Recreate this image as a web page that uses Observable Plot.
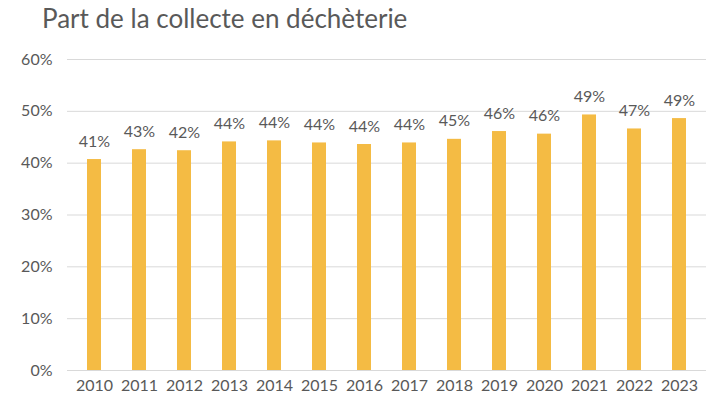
<!DOCTYPE html>
<html>
<head>
<meta charset="utf-8">
<script src="https://cdn.jsdelivr.net/npm/d3@7"></script>
<script src="https://cdn.jsdelivr.net/npm/@observablehq/plot@0.6"></script>
<style>
  html, body { margin: 0; padding: 0; background: #fff; }
  #title { font-family: Lato, "Open Sans", sans-serif; font-size: 26px; color: #595959; height: 40px; line-height: 36px; padding-left: 42px; box-sizing: border-box; }
  svg { display: block; }
</style>
</head>
<body>
<div id="title">Part de la collecte en déchèterie</div>
<div id="chart"></div>
<script>
const years = ["2010","2011","2012","2013","2014","2015","2016","2017","2018","2019","2020","2021","2022","2023"];
const shares = [0.407,0.426,0.424,0.441,0.443,0.439,0.436,0.439,0.446,0.461,0.456,0.493,0.466,0.486];
const labels = ["41%","43%","42%","44%","44%","44%","44%","44%","45%","46%","46%","49%","47%","49%"];
const yTicks = [0,0.1,0.2,0.3,0.4,0.5,0.6];

const data = years.map((y, i) => ({year: y, value: shares[i], label: labels[i]}));
const pct = d => Math.round(d * 100) + "%";

const chart = Plot.plot({
  width: 719,
  height: 363,
  marginTop: 19,
  marginBottom: 33,
  marginLeft: 67,
  marginRight: 13,
  style: { fontFamily: "Lato, 'Open Sans', sans-serif", fontSize: "16px", color: "#595959", background: "#fff" },
  x: { domain: years, paddingInner: 0.69, paddingOuter: 0.345, label: null },
  y: { domain: [0, 0.6], label: null },
  marks: [
    Plot.gridY(yTicks, { stroke: "#d9d9d9", strokeOpacity: 1, strokeWidth: 1 }),
    Plot.barY(data, { x: "year", y: "value", fill: "#F4BB44" }),
    Plot.text(data, { x: "year", y: "value", text: "label", dy: -18, fill: "#595959", fontSize: 16 }),
    Plot.axisX({ tickSize: 0, tickPadding: 9, fontSize: 16, fill: "#595959", label: null }),
    Plot.axisY({ ticks: yTicks, tickSize: 0, tickPadding: 15, fontSize: 16, fill: "#595959", tickFormat: pct, label: null })
  ]
});
document.getElementById("chart").appendChild(chart);
</script>
</body>
</html>
